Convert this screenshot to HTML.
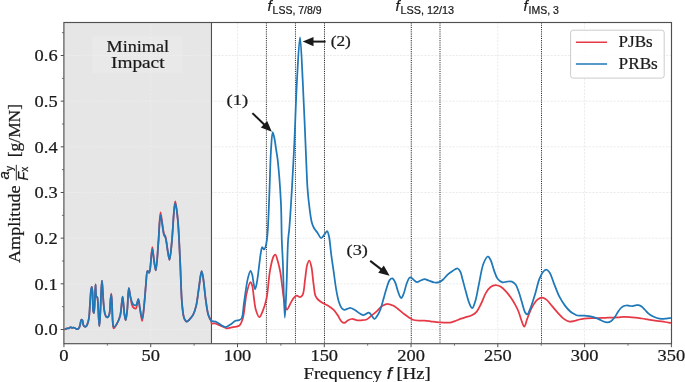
<!DOCTYPE html>
<html><head><meta charset="utf-8"><style>
html,body{margin:0;padding:0;background:#fff;}
body{width:685px;height:382px;overflow:hidden;}
svg{display:block;will-change:transform;}
text{stroke:#1a1a1a;stroke-width:0.22px;}
</style></head><body>
<svg width="685" height="382" viewBox="0 0 685 382">
<rect width="685" height="382" fill="#fff"/>
<rect x="63.9" y="22.5" width="147.57" height="321.2" fill="#e6e6e6"/>
<line x1="63.95" y1="22.5" x2="63.95" y2="343.7" stroke="#ececec" stroke-width="1" stroke-dasharray="2.3,1.2"/>
<line x1="150.73" y1="22.5" x2="150.73" y2="343.7" stroke="#ececec" stroke-width="1" stroke-dasharray="2.3,1.2"/>
<line x1="237.50" y1="22.5" x2="237.50" y2="343.7" stroke="#ececec" stroke-width="1" stroke-dasharray="2.3,1.2"/>
<line x1="324.27" y1="22.5" x2="324.27" y2="343.7" stroke="#ececec" stroke-width="1" stroke-dasharray="2.3,1.2"/>
<line x1="411.05" y1="22.5" x2="411.05" y2="343.7" stroke="#ececec" stroke-width="1" stroke-dasharray="2.3,1.2"/>
<line x1="497.82" y1="22.5" x2="497.82" y2="343.7" stroke="#ececec" stroke-width="1" stroke-dasharray="2.3,1.2"/>
<line x1="584.60" y1="22.5" x2="584.60" y2="343.7" stroke="#ececec" stroke-width="1" stroke-dasharray="2.3,1.2"/>
<line x1="671.38" y1="22.5" x2="671.38" y2="343.7" stroke="#ececec" stroke-width="1" stroke-dasharray="2.3,1.2"/>
<line x1="63.9" y1="329.50" x2="671.5" y2="329.50" stroke="#ececec" stroke-width="1" stroke-dasharray="2.3,1.2"/>
<line x1="63.9" y1="283.83" x2="671.5" y2="283.83" stroke="#ececec" stroke-width="1" stroke-dasharray="2.3,1.2"/>
<line x1="63.9" y1="238.17" x2="671.5" y2="238.17" stroke="#ececec" stroke-width="1" stroke-dasharray="2.3,1.2"/>
<line x1="63.9" y1="192.50" x2="671.5" y2="192.50" stroke="#ececec" stroke-width="1" stroke-dasharray="2.3,1.2"/>
<line x1="63.9" y1="146.83" x2="671.5" y2="146.83" stroke="#ececec" stroke-width="1" stroke-dasharray="2.3,1.2"/>
<line x1="63.9" y1="101.16" x2="671.5" y2="101.16" stroke="#ececec" stroke-width="1" stroke-dasharray="2.3,1.2"/>
<line x1="63.9" y1="55.50" x2="671.5" y2="55.50" stroke="#ececec" stroke-width="1" stroke-dasharray="2.3,1.2"/>
<rect x="92.2" y="36.2" width="90.7" height="37" fill="#ffffff" fill-opacity="0.12"/>
<line x1="266.40" y1="22.5" x2="266.40" y2="343.7" stroke="#2a2a2a" stroke-width="1" stroke-dasharray="1.1,1.1"/>
<line x1="295.45" y1="22.5" x2="295.45" y2="343.7" stroke="#2a2a2a" stroke-width="1" stroke-dasharray="1.1,1.1"/>
<line x1="324.50" y1="22.5" x2="324.50" y2="343.7" stroke="#2a2a2a" stroke-width="1" stroke-dasharray="1.1,1.1"/>
<line x1="411.30" y1="22.5" x2="411.30" y2="343.7" stroke="#2a2a2a" stroke-width="1" stroke-dasharray="1.1,1.1"/>
<line x1="440.00" y1="22.5" x2="440.00" y2="343.7" stroke="#2a2a2a" stroke-width="1" stroke-dasharray="1.1,1.1"/>
<line x1="541.50" y1="22.5" x2="541.50" y2="343.7" stroke="#2a2a2a" stroke-width="1" stroke-dasharray="1.1,1.1"/>
<line x1="211.47" y1="22.5" x2="211.47" y2="343.7" stroke="#505050" stroke-width="1.1"/>
<path d="M64.50,329.30 C64.73,329.27 64.92,329.28 65.20,329.20 C65.67,329.07 66.38,328.55 67.00,328.40 C67.61,328.25 68.30,328.50 68.90,328.30 C69.54,328.09 70.14,327.10 70.70,327.10 C71.19,327.10 71.62,327.94 72.10,328.00 C72.55,328.05 73.04,327.49 73.50,327.50 C73.94,327.51 74.37,327.78 74.80,328.00 C75.27,328.24 75.71,328.70 76.20,328.90 C76.65,329.09 77.15,329.34 77.60,329.20 C78.17,329.02 78.77,328.23 79.20,327.50 C79.74,326.57 79.96,325.15 80.30,323.90 C80.66,322.56 80.73,319.98 81.30,319.70 C81.60,319.55 82.11,319.83 82.40,320.20 C82.98,320.93 82.83,323.65 83.30,324.80 C83.62,325.58 84.00,326.33 84.50,326.60 C84.90,326.82 85.48,326.84 85.90,326.60 C86.50,326.26 86.96,325.15 87.40,324.10 C88.03,322.60 88.50,320.69 88.90,318.30 C89.52,314.59 89.63,308.71 90.00,303.90 C90.37,299.08 90.61,292.26 91.10,289.40 C91.31,288.17 91.60,286.79 91.80,286.80 C92.09,286.82 92.30,289.91 92.50,292.30 C92.86,296.69 92.63,307.98 93.20,311.10 C93.39,312.17 93.70,313.22 93.90,313.20 C94.31,313.15 94.47,307.57 94.70,303.90 C95.04,298.59 95.17,284.41 95.50,284.40 C95.76,284.40 95.60,294.98 96.40,296.60 C96.65,297.11 97.07,296.98 97.30,297.40 C97.69,298.13 97.64,299.35 97.80,301.00 C98.14,304.61 98.37,313.65 98.70,318.30 C98.92,321.45 99.16,326.20 99.40,326.20 C99.73,326.20 100.10,316.59 100.40,311.10 C100.75,304.52 100.96,295.05 101.30,289.40 C101.52,285.78 101.77,280.50 102.00,280.50 C102.23,280.50 102.47,286.07 102.70,289.40 C103.00,293.65 103.19,299.61 103.60,303.90 C103.93,307.35 104.20,310.85 104.80,313.20 C105.18,314.71 105.50,316.23 106.20,316.80 C106.66,317.18 107.42,317.34 107.90,317.10 C108.58,316.75 109.01,315.47 109.40,314.00 C110.21,310.99 110.10,303.26 110.50,299.50 C110.75,297.09 111.07,293.59 111.30,293.60 C111.60,293.61 111.78,299.96 112.00,303.90 C112.29,309.21 112.36,318.17 112.80,322.60 C113.05,325.06 113.00,328.14 113.70,328.30 C114.42,328.46 116.09,325.30 117.10,323.40 C118.31,321.14 119.37,318.76 120.20,315.50 C121.45,310.63 121.89,296.69 122.60,296.70 C123.28,296.71 123.73,309.69 124.40,314.00 C124.81,316.60 125.28,320.21 125.70,320.20 C126.26,320.18 126.84,313.47 127.30,309.20 C127.94,303.29 128.10,288.04 128.80,288.00 C129.25,287.97 129.77,293.69 130.40,296.70 C131.09,299.97 131.37,305.07 132.80,306.90 C133.62,307.96 135.07,308.87 135.90,308.50 C137.28,307.88 137.64,298.97 138.30,299.00 C138.93,299.02 139.23,304.49 139.80,307.70 C140.50,311.67 141.47,321.02 142.20,321.00 C143.08,320.97 143.87,307.70 144.50,301.40 C145.08,295.56 145.37,289.82 145.90,284.50 C146.38,279.72 146.50,271.18 147.50,270.90 C147.92,270.78 148.60,272.86 149.00,272.80 C149.41,272.74 149.61,271.64 149.90,270.40 C150.78,266.66 151.51,247.21 152.30,247.20 C152.91,247.19 153.45,256.85 154.10,261.00 C154.64,264.44 155.26,270.42 155.80,270.40 C156.74,270.36 157.62,251.65 158.40,242.10 C159.19,232.32 159.62,212.44 160.50,212.40 C161.06,212.38 161.79,220.47 162.40,224.20 C162.95,227.57 163.25,231.71 164.00,233.80 C164.40,234.92 164.97,235.00 165.40,236.20 C166.41,239.04 167.02,247.18 167.80,251.50 C168.38,254.69 168.95,259.82 169.50,259.80 C170.30,259.77 171.11,248.92 171.80,242.10 C172.74,232.81 173.43,216.26 174.20,209.10 C174.57,205.63 174.87,201.40 175.30,201.40 C175.95,201.40 177.01,211.58 177.70,218.60 C178.78,229.58 179.36,246.69 180.10,261.00 C180.86,275.68 181.09,295.12 182.20,305.60 C182.81,311.36 183.16,316.24 184.40,318.90 C185.03,320.27 185.82,321.52 186.70,321.60 C187.66,321.69 188.96,319.99 190.00,318.90 C191.18,317.65 192.35,316.24 193.30,314.40 C194.52,312.03 195.37,309.09 196.20,305.60 C197.36,300.74 197.99,293.64 198.90,287.80 C199.79,282.14 200.74,271.12 201.60,271.10 C202.19,271.08 202.77,275.68 203.30,278.90 C204.15,284.01 204.72,292.67 205.60,298.90 C206.38,304.41 206.99,310.42 208.20,314.40 C209.01,317.06 210.53,319.14 211.10,320.80 C211.45,321.81 211.14,322.83 211.70,323.30 C212.34,323.83 213.94,323.28 215.00,323.50 C216.04,323.72 216.88,324.17 218.00,324.60 C219.44,325.16 221.38,325.95 222.90,326.60 C224.25,327.18 225.25,328.13 226.70,328.30 C228.49,328.51 230.83,327.52 232.90,327.10 C234.97,326.68 237.49,327.04 239.10,325.80 C240.94,324.38 241.75,321.70 242.80,318.40 C244.63,312.64 244.99,300.13 246.60,293.50 C247.71,288.94 249.26,282.30 250.40,282.20 C251.04,282.14 251.71,284.01 252.20,285.50 C253.07,288.12 253.21,293.05 253.80,297.00 C254.43,301.20 254.75,306.37 255.90,310.00 C256.79,312.83 258.21,317.18 259.40,317.20 C260.55,317.22 261.84,313.18 262.90,310.60 C264.27,307.29 265.47,303.63 266.50,298.80 C268.06,291.47 268.56,278.35 270.00,270.60 C271.03,265.06 272.12,258.94 273.50,256.50 C274.09,255.45 274.82,254.47 275.40,254.60 C276.34,254.81 277.06,258.71 277.80,261.20 C278.73,264.33 279.59,268.09 280.30,272.00 C281.13,276.57 281.62,282.00 282.30,287.00 C282.98,292.00 283.42,297.88 284.40,302.00 C285.12,305.00 285.94,309.50 287.00,309.60 C288.00,309.69 289.36,305.37 290.50,303.40 C291.55,301.58 292.42,299.54 293.60,298.20 C294.57,297.10 295.70,295.83 296.80,295.70 C297.81,295.58 298.93,297.21 299.90,297.10 C300.87,296.98 301.86,296.25 302.60,295.00 C304.19,292.31 304.32,284.44 305.10,279.30 C305.85,274.35 306.15,268.04 307.20,264.70 C307.79,262.81 308.65,260.45 309.30,260.50 C310.07,260.55 310.80,264.16 311.40,266.80 C312.35,271.00 312.74,278.33 313.50,283.50 C314.16,288.00 314.36,293.19 315.60,296.10 C316.36,297.89 317.31,298.84 318.50,300.00 C319.80,301.26 321.55,302.32 323.20,303.30 C324.88,304.29 326.79,304.85 328.50,305.90 C330.30,307.00 332.19,308.27 333.70,309.80 C335.22,311.34 336.33,313.22 337.60,315.10 C338.97,317.13 340.22,320.34 341.60,321.60 C342.45,322.38 343.26,322.96 344.20,322.90 C345.39,322.83 346.75,320.96 348.10,320.30 C349.36,319.68 350.59,319.06 352.00,319.00 C353.62,318.93 355.66,320.10 357.30,320.30 C358.69,320.47 359.80,320.40 361.20,320.30 C362.86,320.18 364.96,320.21 366.60,319.50 C368.30,318.77 369.61,317.19 371.20,315.90 C372.96,314.47 374.87,312.93 376.70,311.30 C378.63,309.58 380.43,307.02 382.50,305.80 C384.29,304.74 386.33,303.99 388.20,304.00 C390.03,304.01 391.90,304.92 393.60,305.80 C395.38,306.72 396.91,308.18 398.60,309.50 C400.41,310.91 402.31,312.63 404.10,314.00 C405.73,315.24 407.36,316.40 408.90,317.40 C410.25,318.27 411.31,319.16 412.80,319.70 C414.51,320.33 416.73,320.53 418.70,320.70 C420.66,320.86 422.64,320.60 424.60,320.70 C426.57,320.80 428.54,321.07 430.50,321.30 C432.47,321.53 434.29,321.89 436.40,322.10 C438.81,322.34 441.78,322.52 444.20,322.60 C446.30,322.67 448.16,322.91 450.10,322.60 C452.09,322.29 454.14,321.38 456.00,320.70 C457.72,320.07 459.24,319.28 460.90,318.70 C462.54,318.12 464.17,317.74 465.90,317.20 C467.79,316.61 470.01,316.22 471.80,315.30 C473.54,314.40 475.08,313.41 476.50,311.80 C478.31,309.75 479.70,306.47 481.20,303.50 C482.85,300.22 484.13,295.83 485.90,292.90 C487.33,290.54 488.81,288.29 490.60,287.00 C492.11,285.92 493.94,285.25 495.60,285.20 C497.21,285.15 498.83,285.75 500.40,286.60 C502.28,287.62 504.22,289.54 505.90,291.30 C507.63,293.10 509.09,295.15 510.60,297.30 C512.23,299.62 513.94,302.33 515.30,304.80 C516.54,307.06 517.50,309.03 518.50,311.50 C519.66,314.38 520.61,318.35 521.70,321.10 C522.55,323.24 523.45,326.73 524.30,326.70 C525.29,326.66 526.10,321.72 527.20,318.90 C528.51,315.52 529.89,311.12 531.70,307.80 C533.34,304.78 535.36,301.40 537.40,299.70 C538.86,298.49 540.48,297.60 542.00,297.60 C543.48,297.60 544.97,298.55 546.40,299.60 C548.23,300.96 549.84,303.47 551.70,305.60 C553.79,308.00 556.15,310.97 558.30,313.30 C560.20,315.36 561.92,317.48 563.90,318.90 C565.64,320.15 567.54,321.29 569.40,321.60 C571.14,321.89 573.00,321.26 574.70,320.90 C576.33,320.55 577.81,319.87 579.40,319.50 C580.98,319.13 582.44,318.92 584.20,318.70 C586.31,318.43 588.86,318.20 591.20,318.10 C593.56,318.00 595.93,318.15 598.30,318.10 C600.67,318.05 603.03,317.88 605.40,317.80 C607.77,317.72 610.28,317.67 612.50,317.60 C614.45,317.54 616.14,317.51 618.00,317.40 C619.93,317.28 621.93,316.95 623.90,316.90 C625.87,316.85 627.84,316.97 629.80,317.10 C631.77,317.23 633.74,317.47 635.70,317.70 C637.67,317.93 639.64,318.22 641.60,318.50 C643.54,318.78 645.46,319.09 647.40,319.40 C649.36,319.72 651.33,320.10 653.30,320.40 C655.26,320.70 657.23,320.93 659.20,321.20 C661.17,321.47 663.14,321.70 665.10,322.00 C667.07,322.30 669.03,322.67 671.00,323.00" fill="none" stroke="#e63946" stroke-width="1.75" stroke-linejoin="round"/>
<path d="M64.50,329.30 C64.73,329.27 64.92,329.28 65.20,329.20 C65.67,329.07 66.38,328.55 67.00,328.40 C67.61,328.25 68.30,328.50 68.90,328.30 C69.54,328.09 70.14,327.10 70.70,327.10 C71.19,327.10 71.62,327.94 72.10,328.00 C72.55,328.05 73.04,327.49 73.50,327.50 C73.94,327.51 74.37,327.78 74.80,328.00 C75.27,328.24 75.71,328.70 76.20,328.90 C76.65,329.09 77.15,329.34 77.60,329.20 C78.17,329.02 78.77,328.23 79.20,327.50 C79.74,326.57 79.96,325.15 80.30,323.90 C80.66,322.56 80.73,319.98 81.30,319.70 C81.60,319.55 82.11,319.83 82.40,320.20 C82.98,320.93 82.83,323.65 83.30,324.80 C83.62,325.58 84.00,326.33 84.50,326.60 C84.90,326.82 85.48,326.84 85.90,326.60 C86.50,326.26 86.96,325.15 87.40,324.10 C88.03,322.60 88.50,320.69 88.90,318.30 C89.52,314.59 89.63,308.71 90.00,303.90 C90.37,299.08 90.61,292.26 91.10,289.40 C91.31,288.17 91.60,286.79 91.80,286.80 C92.09,286.82 92.30,289.91 92.50,292.30 C92.86,296.69 92.63,307.98 93.20,311.10 C93.39,312.17 93.70,313.22 93.90,313.20 C94.31,313.15 94.47,307.57 94.70,303.90 C95.04,298.59 95.17,284.41 95.50,284.40 C95.76,284.40 95.60,294.98 96.40,296.60 C96.65,297.11 97.07,296.98 97.30,297.40 C97.69,298.13 97.64,299.35 97.80,301.00 C98.14,304.61 98.37,313.65 98.70,318.30 C98.92,321.45 99.16,326.20 99.40,326.20 C99.73,326.20 100.10,316.59 100.40,311.10 C100.75,304.52 100.96,295.05 101.30,289.40 C101.52,285.78 101.77,280.50 102.00,280.50 C102.23,280.50 102.47,286.07 102.70,289.40 C103.00,293.65 103.19,299.61 103.60,303.90 C103.93,307.35 104.20,310.85 104.80,313.20 C105.18,314.71 105.50,316.23 106.20,316.80 C106.66,317.18 107.42,317.34 107.90,317.10 C108.58,316.75 109.01,315.47 109.40,314.00 C110.21,310.99 110.08,303.07 110.50,299.50 C110.75,297.39 111.07,294.49 111.30,294.50 C111.61,294.51 111.78,300.23 112.00,303.90 C112.30,309.07 112.30,318.54 112.80,322.60 C113.04,324.59 113.02,326.81 113.70,327.00 C114.41,327.20 116.12,324.95 117.10,323.40 C118.39,321.37 119.37,318.76 120.20,315.50 C121.45,310.63 121.89,296.69 122.60,296.70 C123.28,296.71 123.73,309.69 124.40,314.00 C124.81,316.60 125.28,320.21 125.70,320.20 C126.26,320.18 126.84,313.47 127.30,309.20 C127.94,303.29 128.10,288.04 128.80,288.00 C129.25,287.97 129.69,293.97 130.40,296.70 C131.05,299.21 131.57,302.40 132.80,303.80 C133.63,304.75 135.06,305.63 135.90,305.30 C137.08,304.83 137.67,298.94 138.30,299.00 C139.02,299.07 139.20,304.64 139.80,307.70 C140.48,311.16 141.48,318.73 142.20,318.70 C143.09,318.66 143.88,307.14 144.50,301.40 C145.11,295.74 145.37,289.82 145.90,284.50 C146.38,279.72 146.50,271.18 147.50,270.90 C147.92,270.78 148.60,272.86 149.00,272.80 C149.41,272.74 149.61,271.62 149.90,270.40 C150.75,266.87 151.50,249.22 152.30,249.20 C152.90,249.19 153.48,257.29 154.10,261.00 C154.65,264.32 155.26,270.42 155.80,270.40 C156.74,270.36 157.61,251.43 158.40,242.10 C159.17,232.97 159.61,215.04 160.50,215.00 C161.06,214.97 161.80,222.16 162.40,225.60 C162.97,228.85 163.24,233.06 164.00,235.10 C164.40,236.18 164.97,236.25 165.40,237.40 C166.39,240.05 167.04,247.42 167.80,251.50 C168.39,254.64 168.95,259.82 169.50,259.80 C170.30,259.77 171.11,248.92 171.80,242.10 C172.74,232.81 173.36,215.62 174.20,209.10 C174.56,206.32 174.88,203.19 175.30,203.20 C175.97,203.21 177.02,212.17 177.70,218.60 C178.82,229.21 179.36,246.69 180.10,261.00 C180.86,275.68 181.09,295.12 182.20,305.60 C182.81,311.36 183.16,316.24 184.40,318.90 C185.03,320.27 185.82,321.52 186.70,321.60 C187.66,321.69 188.96,319.99 190.00,318.90 C191.18,317.65 192.35,316.24 193.30,314.40 C194.52,312.03 195.37,309.09 196.20,305.60 C197.36,300.74 197.99,293.64 198.90,287.80 C199.79,282.14 200.74,271.12 201.60,271.10 C202.19,271.08 202.77,275.68 203.30,278.90 C204.15,284.01 204.72,292.67 205.60,298.90 C206.38,304.41 206.99,310.42 208.20,314.40 C209.01,317.06 209.65,319.67 211.10,320.80 C212.26,321.70 214.05,321.04 215.50,321.60 C217.15,322.23 218.74,323.68 220.40,324.60 C222.04,325.51 223.73,327.10 225.40,327.10 C227.07,327.10 228.78,325.61 230.40,324.60 C232.12,323.53 233.77,321.52 235.40,320.80 C236.66,320.24 238.03,320.54 239.10,320.10 C240.06,319.70 240.91,319.49 241.60,318.40 C243.21,315.85 243.18,308.11 244.10,302.20 C245.21,295.07 246.38,284.30 247.80,278.60 C248.64,275.25 249.65,270.84 250.50,270.80 C251.09,270.77 251.73,272.94 252.20,274.50 C252.92,276.90 253.13,281.32 253.70,284.00 C254.13,286.01 254.62,289.20 255.10,289.20 C255.58,289.20 256.16,285.99 256.60,284.00 C257.17,281.42 257.56,278.19 258.00,275.00 C258.50,271.41 258.92,267.24 259.40,263.50 C259.86,259.92 260.25,255.99 260.80,253.00 C261.22,250.74 261.51,247.24 262.20,247.10 C262.69,247.00 263.45,249.53 264.00,249.50 C264.55,249.47 265.08,248.09 265.50,247.00 C266.16,245.29 266.52,242.63 266.90,240.00 C267.38,236.65 267.58,233.46 267.90,228.50 C268.48,219.43 268.99,202.96 269.50,190.00 C270.02,176.79 270.29,160.66 271.00,150.00 C271.47,142.87 271.88,132.27 272.70,132.20 C273.23,132.16 274.05,136.67 274.60,139.30 C275.26,142.49 275.67,146.49 276.20,150.00 C276.71,153.39 277.19,155.50 277.70,160.00 C278.74,169.23 280.22,188.68 280.90,202.40 C281.54,215.30 281.41,228.93 281.80,240.00 C282.11,248.75 282.51,254.06 282.90,263.50 C283.49,277.83 284.10,317.59 284.80,317.60 C285.33,317.61 285.99,298.29 286.50,287.00 C287.13,273.01 287.38,250.36 288.10,240.00 C288.46,234.86 288.84,234.05 289.30,228.50 C290.49,214.02 292.69,175.42 294.00,150.00 C295.23,126.00 295.84,100.46 297.00,80.00 C297.90,64.01 299.05,37.30 300.00,37.30 C300.95,37.30 301.80,63.14 302.70,80.00 C304.00,104.47 305.74,151.39 306.60,170.00 C306.99,178.37 307.04,182.08 307.50,188.20 C307.97,194.45 308.63,201.14 309.40,207.10 C310.09,212.48 310.75,218.56 311.80,222.40 C312.47,224.84 313.11,226.43 314.10,228.20 C315.06,229.92 316.44,231.28 317.60,232.90 C318.81,234.58 319.96,238.03 321.20,238.10 C322.33,238.16 323.66,235.35 324.70,234.10 C325.59,233.04 326.43,230.99 327.10,231.10 C327.92,231.24 328.45,234.16 329.00,236.50 C329.95,240.57 330.33,247.81 331.10,253.60 C331.89,259.60 332.83,265.80 333.70,271.90 C334.57,278.00 335.32,284.78 336.30,290.20 C337.09,294.58 337.83,298.77 338.90,302.00 C339.69,304.38 340.49,306.67 341.60,308.00 C342.37,308.92 343.21,309.66 344.20,309.80 C345.33,309.96 346.92,308.81 348.10,308.50 C349.05,308.25 349.77,307.89 350.70,308.00 C351.89,308.14 353.24,309.01 354.60,309.80 C356.28,310.78 358.24,312.69 359.90,313.60 C361.20,314.32 362.28,315.14 363.60,315.10 C365.15,315.05 367.40,312.66 368.60,312.70 C369.29,312.72 369.69,313.13 370.20,313.60 C370.91,314.25 371.48,315.59 372.20,316.50 C372.91,317.39 373.69,319.02 374.50,319.00 C375.47,318.97 376.67,316.66 377.60,315.20 C378.66,313.54 379.56,311.67 380.40,309.50 C381.44,306.84 382.13,303.62 383.10,300.30 C384.24,296.39 385.58,291.16 386.80,287.50 C387.74,284.68 388.39,281.61 389.60,280.10 C390.36,279.16 391.38,278.26 392.20,278.40 C393.20,278.57 394.19,280.47 395.00,282.00 C396.11,284.11 396.72,287.65 397.60,290.20 C398.39,292.48 399.19,295.28 400.00,296.60 C400.43,297.30 400.85,298.05 401.30,298.00 C402.01,297.91 402.87,295.62 403.60,293.90 C404.69,291.33 405.53,286.67 406.60,283.80 C407.43,281.57 408.28,278.96 409.20,278.00 C409.65,277.53 410.08,277.24 410.60,277.30 C411.36,277.38 412.26,278.66 413.20,279.40 C414.30,280.25 415.53,281.94 416.80,282.10 C418.03,282.26 419.39,281.00 420.70,280.50 C421.99,280.00 423.30,279.10 424.60,279.10 C425.90,279.10 427.06,280.00 428.50,280.50 C430.26,281.11 432.50,282.27 434.40,282.50 C436.09,282.71 437.82,282.61 439.30,282.10 C440.75,281.60 441.93,280.60 443.20,279.50 C444.71,278.20 446.01,276.05 447.60,274.60 C449.15,273.19 450.88,271.93 452.60,270.90 C454.22,269.92 456.26,268.20 457.60,268.50 C458.79,268.76 459.65,270.47 460.40,271.90 C461.36,273.72 461.65,276.13 462.40,278.80 C463.42,282.45 464.70,287.59 465.90,291.80 C467.04,295.81 468.10,300.53 469.40,303.50 C470.27,305.49 471.29,308.25 472.20,308.20 C473.27,308.14 474.37,304.09 475.30,301.20 C476.69,296.92 477.53,290.54 478.80,284.70 C480.24,278.07 481.46,268.54 483.50,263.50 C484.75,260.40 486.46,256.58 487.80,256.50 C488.79,256.44 489.74,258.42 490.60,260.00 C491.95,262.50 492.86,267.32 494.10,270.60 C495.21,273.53 496.00,276.76 497.60,278.80 C498.91,280.47 500.72,281.99 502.40,282.40 C503.90,282.76 505.53,281.73 507.10,281.60 C508.66,281.47 510.39,281.12 511.80,281.60 C513.22,282.08 514.53,283.12 515.60,284.50 C517.00,286.30 517.80,289.26 518.80,292.00 C519.96,295.18 520.95,299.07 522.00,302.50 C523.01,305.80 523.79,310.20 525.00,312.20 C525.67,313.31 526.47,314.51 527.20,314.40 C528.33,314.22 529.50,310.44 530.60,307.80 C532.12,304.16 533.58,299.04 535.00,294.40 C536.52,289.44 537.82,282.94 539.40,278.90 C540.48,276.14 541.47,273.82 542.80,272.20 C543.79,270.99 545.00,269.60 546.10,269.60 C547.20,269.60 548.38,270.84 549.40,272.20 C551.12,274.50 552.32,279.43 553.90,283.30 C555.64,287.56 557.37,292.77 559.40,296.70 C561.13,300.05 563.04,303.01 565.00,305.60 C566.70,307.85 568.88,310.23 570.30,311.50 C571.11,312.23 571.60,312.49 572.40,313.00 C573.40,313.64 574.70,314.55 575.90,315.00 C577.03,315.42 578.13,315.57 579.40,315.70 C580.87,315.85 582.61,315.62 584.20,315.70 C585.78,315.78 587.34,315.97 588.90,316.20 C590.47,316.43 592.05,316.66 593.60,317.10 C595.19,317.55 596.75,318.21 598.30,318.90 C599.89,319.61 601.46,320.71 603.00,321.30 C604.38,321.83 605.73,322.46 607.10,322.40 C608.50,322.34 610.05,321.73 611.30,320.90 C612.64,320.01 613.71,318.55 614.80,317.10 C616.03,315.47 617.14,313.05 618.20,311.50 C619.01,310.32 619.63,309.38 620.50,308.50 C621.34,307.65 622.30,306.80 623.30,306.30 C624.21,305.84 625.17,305.58 626.20,305.50 C627.33,305.41 628.66,305.80 629.80,305.90 C630.82,305.99 631.73,306.19 632.70,306.10 C633.70,306.00 634.70,305.47 635.70,305.30 C636.67,305.14 637.65,304.92 638.60,305.10 C639.62,305.29 640.62,305.81 641.60,306.50 C642.80,307.34 643.94,308.82 645.10,310.00 C646.27,311.19 647.37,312.56 648.60,313.60 C649.75,314.57 650.88,315.38 652.20,316.10 C653.62,316.87 655.31,317.53 656.90,318.00 C658.44,318.46 660.03,318.80 661.60,318.90 C663.16,319.00 664.74,318.75 666.30,318.60 C667.87,318.45 669.43,318.20 671.00,318.00" fill="none" stroke="#1f78b8" stroke-width="1.75" stroke-linejoin="round"/>
<rect x="63.9" y="22.5" width="607.60" height="321.20" fill="none" stroke="#505050" stroke-width="1.15"/>
<line x1="63.95" y1="343.7" x2="63.95" y2="347.2" stroke="#505050" stroke-width="1"/>
<line x1="150.73" y1="343.7" x2="150.73" y2="347.2" stroke="#505050" stroke-width="1"/>
<line x1="237.50" y1="343.7" x2="237.50" y2="347.2" stroke="#505050" stroke-width="1"/>
<line x1="324.27" y1="343.7" x2="324.27" y2="347.2" stroke="#505050" stroke-width="1"/>
<line x1="411.05" y1="343.7" x2="411.05" y2="347.2" stroke="#505050" stroke-width="1"/>
<line x1="497.82" y1="343.7" x2="497.82" y2="347.2" stroke="#505050" stroke-width="1"/>
<line x1="584.60" y1="343.7" x2="584.60" y2="347.2" stroke="#505050" stroke-width="1"/>
<line x1="671.38" y1="343.7" x2="671.38" y2="347.2" stroke="#505050" stroke-width="1"/>
<line x1="107.34" y1="343.7" x2="107.34" y2="345.7" stroke="#505050" stroke-width="0.8"/>
<line x1="194.11" y1="343.7" x2="194.11" y2="345.7" stroke="#505050" stroke-width="0.8"/>
<line x1="280.89" y1="343.7" x2="280.89" y2="345.7" stroke="#505050" stroke-width="0.8"/>
<line x1="367.66" y1="343.7" x2="367.66" y2="345.7" stroke="#505050" stroke-width="0.8"/>
<line x1="454.44" y1="343.7" x2="454.44" y2="345.7" stroke="#505050" stroke-width="0.8"/>
<line x1="541.21" y1="343.7" x2="541.21" y2="345.7" stroke="#505050" stroke-width="0.8"/>
<line x1="627.99" y1="343.7" x2="627.99" y2="345.7" stroke="#505050" stroke-width="0.8"/>
<line x1="60.699999999999996" y1="329.50" x2="63.9" y2="329.50" stroke="#505050" stroke-width="1"/>
<line x1="60.699999999999996" y1="283.83" x2="63.9" y2="283.83" stroke="#505050" stroke-width="1"/>
<line x1="60.699999999999996" y1="238.17" x2="63.9" y2="238.17" stroke="#505050" stroke-width="1"/>
<line x1="60.699999999999996" y1="192.50" x2="63.9" y2="192.50" stroke="#505050" stroke-width="1"/>
<line x1="60.699999999999996" y1="146.83" x2="63.9" y2="146.83" stroke="#505050" stroke-width="1"/>
<line x1="60.699999999999996" y1="101.16" x2="63.9" y2="101.16" stroke="#505050" stroke-width="1"/>
<line x1="60.699999999999996" y1="55.50" x2="63.9" y2="55.50" stroke="#505050" stroke-width="1"/>
<line x1="61.9" y1="306.67" x2="63.9" y2="306.67" stroke="#505050" stroke-width="0.8"/>
<line x1="61.9" y1="261.00" x2="63.9" y2="261.00" stroke="#505050" stroke-width="0.8"/>
<line x1="61.9" y1="215.33" x2="63.9" y2="215.33" stroke="#505050" stroke-width="0.8"/>
<line x1="61.9" y1="169.67" x2="63.9" y2="169.67" stroke="#505050" stroke-width="0.8"/>
<line x1="61.9" y1="124.00" x2="63.9" y2="124.00" stroke="#505050" stroke-width="0.8"/>
<line x1="61.9" y1="78.33" x2="63.9" y2="78.33" stroke="#505050" stroke-width="0.8"/>
<line x1="61.9" y1="32.66" x2="63.9" y2="32.66" stroke="#505050" stroke-width="0.8"/>
<text x="34.60" y="335.20" text-anchor="start" font-family='"Liberation Serif", serif' font-size="16" fill="#1a1a1a" textLength="23.0" lengthAdjust="spacingAndGlyphs">0.0</text>
<text x="34.60" y="289.53" text-anchor="start" font-family='"Liberation Serif", serif' font-size="16" fill="#1a1a1a" textLength="23.0" lengthAdjust="spacingAndGlyphs">0.1</text>
<text x="34.60" y="243.87" text-anchor="start" font-family='"Liberation Serif", serif' font-size="16" fill="#1a1a1a" textLength="23.0" lengthAdjust="spacingAndGlyphs">0.2</text>
<text x="34.60" y="198.20" text-anchor="start" font-family='"Liberation Serif", serif' font-size="16" fill="#1a1a1a" textLength="23.0" lengthAdjust="spacingAndGlyphs">0.3</text>
<text x="34.60" y="152.53" text-anchor="start" font-family='"Liberation Serif", serif' font-size="16" fill="#1a1a1a" textLength="23.0" lengthAdjust="spacingAndGlyphs">0.4</text>
<text x="34.60" y="106.86" text-anchor="start" font-family='"Liberation Serif", serif' font-size="16" fill="#1a1a1a" textLength="23.0" lengthAdjust="spacingAndGlyphs">0.5</text>
<text x="34.60" y="61.20" text-anchor="start" font-family='"Liberation Serif", serif' font-size="16" fill="#1a1a1a" textLength="23.0" lengthAdjust="spacingAndGlyphs">0.6</text>
<text x="59.30" y="361.30" text-anchor="start" font-family='"Liberation Serif", serif' font-size="16" fill="#1a1a1a" textLength="9.3" lengthAdjust="spacingAndGlyphs">0</text>
<text x="141.53" y="361.30" text-anchor="start" font-family='"Liberation Serif", serif' font-size="16" fill="#1a1a1a" textLength="18.4" lengthAdjust="spacingAndGlyphs">50</text>
<text x="223.70" y="361.30" text-anchor="start" font-family='"Liberation Serif", serif' font-size="16" fill="#1a1a1a" textLength="27.6" lengthAdjust="spacingAndGlyphs">100</text>
<text x="310.47" y="361.30" text-anchor="start" font-family='"Liberation Serif", serif' font-size="16" fill="#1a1a1a" textLength="27.6" lengthAdjust="spacingAndGlyphs">150</text>
<text x="397.25" y="361.30" text-anchor="start" font-family='"Liberation Serif", serif' font-size="16" fill="#1a1a1a" textLength="27.6" lengthAdjust="spacingAndGlyphs">200</text>
<text x="484.02" y="361.30" text-anchor="start" font-family='"Liberation Serif", serif' font-size="16" fill="#1a1a1a" textLength="27.6" lengthAdjust="spacingAndGlyphs">250</text>
<text x="570.80" y="361.30" text-anchor="start" font-family='"Liberation Serif", serif' font-size="16" fill="#1a1a1a" textLength="27.6" lengthAdjust="spacingAndGlyphs">300</text>
<text x="657.58" y="361.30" text-anchor="start" font-family='"Liberation Serif", serif' font-size="16" fill="#1a1a1a" textLength="27.6" lengthAdjust="spacingAndGlyphs">350</text>
<text x="303.6" y="378.6" font-family='"Liberation Serif", serif' font-size="16" fill="#1a1a1a" textLength="127" lengthAdjust="spacingAndGlyphs">Frequency <tspan font-family='"Liberation Sans", sans-serif' font-style="italic">f</tspan> [Hz]</text>
<text x="106.50" y="51.50" text-anchor="start" font-family='"Liberation Serif", serif' font-size="16" fill="#1a1a1a" textLength="62.5" lengthAdjust="spacingAndGlyphs">Minimal</text>
<text x="111.00" y="68.30" text-anchor="start" font-family='"Liberation Serif", serif' font-size="16" fill="#1a1a1a" textLength="53.5" lengthAdjust="spacingAndGlyphs">Impact</text>
<line x1="252.40" y1="113.10" x2="265.46" y2="125.69" stroke="#1a1a1a" stroke-width="2"/><polygon points="271.80,131.80 260.83,127.62 267.22,120.99" fill="#1a1a1a"/>
<line x1="325.60" y1="41.60" x2="311.50" y2="41.60" stroke="#1a1a1a" stroke-width="2"/><polygon points="302.70,41.60 313.50,37.00 313.50,46.20" fill="#1a1a1a"/>
<line x1="370.20" y1="260.90" x2="382.60" y2="270.36" stroke="#1a1a1a" stroke-width="2"/><polygon points="389.60,275.70 378.22,272.81 383.80,265.49" fill="#1a1a1a"/>
<text x="226.60" y="105.30" text-anchor="start" font-family='"Liberation Serif", serif' font-size="15.5" fill="#1a1a1a" textLength="21.6" lengthAdjust="spacingAndGlyphs">(1)</text>
<text x="330.70" y="46.00" text-anchor="start" font-family='"Liberation Serif", serif' font-size="15" fill="#1a1a1a" textLength="20.2" lengthAdjust="spacingAndGlyphs">(2)</text>
<text x="346.60" y="255.40" text-anchor="start" font-family='"Liberation Serif", serif' font-size="15.5" fill="#1a1a1a" textLength="21.2" lengthAdjust="spacingAndGlyphs">(3)</text>
<text x="267.6" y="10.8" font-family='"Liberation Sans", sans-serif' font-size="15" fill="#1a1a1a"><tspan font-style="italic">f</tspan></text><text x="272.6" y="13.7" font-family='"Liberation Sans", sans-serif' font-size="10" fill="#1a1a1a" textLength="49.0" lengthAdjust="spacingAndGlyphs">LSS, 7/8/9</text>
<text x="395.5" y="10.8" font-family='"Liberation Sans", sans-serif' font-size="15" fill="#1a1a1a"><tspan font-style="italic">f</tspan></text><text x="400.5" y="13.7" font-family='"Liberation Sans", sans-serif' font-size="10" fill="#1a1a1a" textLength="53.6" lengthAdjust="spacingAndGlyphs">LSS, 12/13</text>
<text x="523.5" y="10.8" font-family='"Liberation Sans", sans-serif' font-size="15" fill="#1a1a1a"><tspan font-style="italic">f</tspan></text><text x="528.5" y="13.7" font-family='"Liberation Sans", sans-serif' font-size="10" fill="#1a1a1a" textLength="30.3" lengthAdjust="spacingAndGlyphs">IMS, 3</text>
<rect x="570.6" y="30.2" width="93.6" height="47.9" rx="2.5" fill="#fff" fill-opacity="0.85" stroke="#cccccc" stroke-width="1"/>
<line x1="575.9" y1="42.2" x2="607.1" y2="42.2" stroke="#e63946" stroke-width="1.6"/>
<line x1="575.9" y1="64" x2="607.1" y2="64" stroke="#1f78b8" stroke-width="1.6"/>
<text x="618.60" y="47.40" text-anchor="start" font-family='"Liberation Serif", serif' font-size="16" fill="#1a1a1a" textLength="34.0" lengthAdjust="spacingAndGlyphs">PJBs</text>
<text x="618.60" y="68.80" text-anchor="start" font-family='"Liberation Serif", serif' font-size="16" fill="#1a1a1a" textLength="39.2" lengthAdjust="spacingAndGlyphs">PRBs</text>
<g transform="translate(19.9,263) rotate(-90)"><text x="0.00" y="0.00" text-anchor="start" font-family='"Liberation Serif", serif' font-size="16" fill="#1a1a1a" textLength="77.6" lengthAdjust="spacingAndGlyphs">Amplitude</text><text x="83.6" y="-11" font-family='"Liberation Sans", sans-serif' font-size="15" font-style="italic" fill="#1a1a1a">a</text><text x="92.0" y="-7.3" font-family='"Liberation Sans", sans-serif' font-size="10" fill="#1a1a1a">y</text><line x1="82.6" y1="-3.6" x2="98.2" y2="-3.6" stroke="#1a1a1a" stroke-width="0.9"/><text x="82.4" y="7.9" font-family='"Liberation Sans", sans-serif' font-size="14" font-style="italic" fill="#1a1a1a">F</text><text x="91.2" y="8.4" font-family='"Liberation Sans", sans-serif' font-size="10" fill="#1a1a1a">x</text><text x="105.80" y="0.00" text-anchor="start" font-family='"Liberation Serif", serif' font-size="16" fill="#1a1a1a" textLength="53.2" lengthAdjust="spacingAndGlyphs">[g/MN]</text></g>
</svg>
</body></html>
